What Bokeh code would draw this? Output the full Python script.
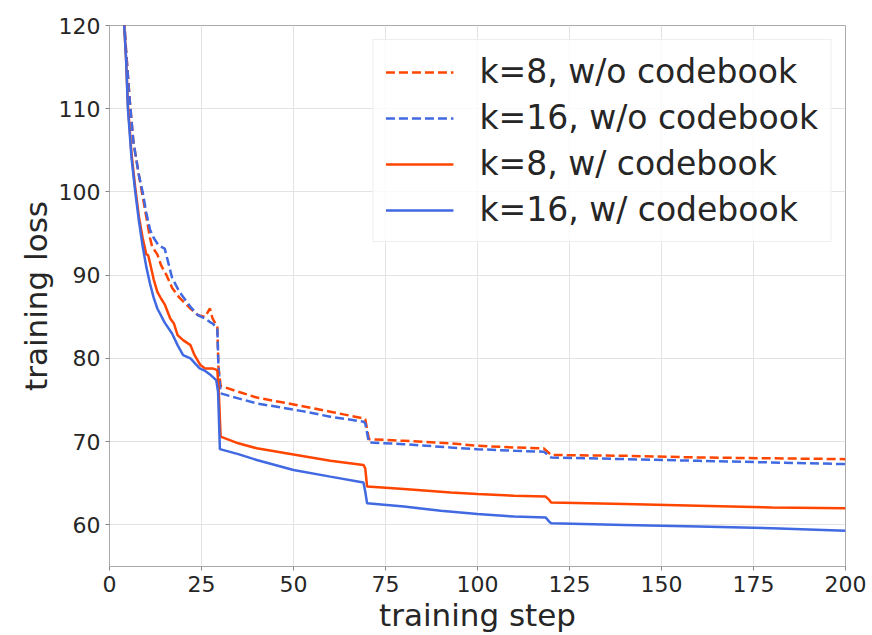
from bokeh.plotting import figure
from bokeh.models import ColumnDataSource, FixedTicker, Range1d
from bokeh.embed import file_html
from bokeh.resources import INLINE

# k=8, w/o codebook (orange dashed)
k8_wo_x = [3.5, 4.5, 5.5, 6.5, 8, 9, 10, 11, 11.6, 13, 14, 15.5, 17, 19, 22, 24, 26, 27.3, 28, 29.3, 29.6, 30.2,
           35, 40, 52, 60, 69, 69.5, 70.5, 80, 92.7, 100, 110, 118, 120, 140, 160, 180, 200]
k8_wo_y = [124, 117, 111, 106, 102, 99.5, 97, 94.5, 93.4, 92.5, 91.2, 90, 88.5, 87.3, 86, 85.2, 85, 86, 84.8, 83.8, 79, 76.7,
           76, 75.3, 74.3, 73.6, 72.8, 72.7, 70.3, 70.1, 69.8, 69.5, 69.3, 69.2, 68.4, 68.3, 68.1, 68, 67.9]

# k=16, w/o codebook (blue dashed)
k16_wo_x = [3.5, 4.5, 5.5, 6.5, 8, 9, 10, 11, 12, 13.3, 15, 17, 19, 22, 24, 26, 27.2, 28, 29.3, 29.6, 30.2,
            35, 40, 52, 60, 69, 69.5, 70.5, 80, 92.7, 100, 110, 118, 120, 140, 160, 180, 200]
k16_wo_y = [124, 117, 111, 106, 102, 100, 97.5, 95.5, 94.5, 93.6, 93.2, 89.7, 88, 86.2, 85.2, 84.8, 84.4, 84.2, 83.6, 79, 75.8,
            75.2, 74.6, 73.7, 73, 72.4, 72.2, 69.9, 69.7, 69.3, 69.1, 68.9, 68.8, 68.1, 67.9, 67.7, 67.5, 67.3]

# k=8, w/ codebook (orange solid)
k8_w_x = [3.5, 4.5, 5, 6, 7, 8, 9, 10, 10.5, 11, 12, 13, 14, 15, 16.5, 17.5, 18.5, 20, 22, 23, 24.7, 26, 28, 29.3, 29.7, 30.2,
          35, 40, 52, 60, 69, 69.5, 70, 80, 92.7, 100, 110, 118.5, 119.5, 120, 140, 160, 180, 200]
k8_w_y = [124, 116, 110.5, 104.5, 100.5, 97, 94.5, 92.5, 92.4, 91.5, 89.5, 88, 87.2, 86.5, 84.8, 84.2, 82.8, 82.2, 81.6, 80.5,
          79.2, 78.8, 78.8, 78.6, 76, 70.6, 69.8, 69.2, 68.3, 67.7, 67.2, 66.8, 64.6, 64.3, 63.9, 63.7, 63.5, 63.4, 63, 62.7,
          62.5, 62.3, 62.1, 62.0]

# k=16, w/ codebook (blue solid)
k16_w_x = [3.5, 4.5, 5, 6, 7, 8, 9, 10, 11, 12, 13, 15, 17, 18.5, 20, 22, 24.5, 26, 27.5, 29, 29.5, 30,
           35, 40, 50, 60, 69, 69.5, 70, 80, 90, 100, 110, 118.5, 119.5, 120, 140, 160, 180, 200]
k16_w_y = [124, 116, 110, 104, 100, 96.5, 93.5, 91, 89, 87.3, 86, 84.3, 83, 81.6, 80.4, 80, 78.8, 78.5, 78, 77.4, 76, 69.1,
           68.5, 67.8, 66.6, 65.8, 65.1, 64, 62.6, 62.2, 61.7, 61.3, 61, 60.9, 60.4, 60.2, 60, 59.8, 59.6, 59.3]

x_ticks = [0, 25, 50, 75, 100, 125, 150, 175, 200]
y_ticks = [60, 70, 80, 90, 100, 110, 120]

ORANGE = "#ff4500"
BLUE = "#4169e1"
FONT = "DejaVu Sans"
TXT = "#262626"

p = figure(width=872, height=635, output_backend="svg", toolbar_location=None,
           x_range=Range1d(0, 200), y_range=Range1d(55, 120),
           min_border_left=109, min_border_right=27, min_border_top=25, min_border_bottom=65)

series = [
    (k8_wo_x, k8_wo_y, ORANGE, "9 4", "k=8, w/o codebook"),
    (k16_wo_x, k16_wo_y, BLUE, "9 4", "k=16, w/o codebook"),
    (k8_w_x, k8_w_y, ORANGE, "solid", "k=8, w/ codebook"),
    (k16_w_x, k16_w_y, BLUE, "solid", "k=16, w/ codebook"),
]
for xs, ys, col, dash, lab in series:
    src = ColumnDataSource(dict(x=xs, y=ys))
    p.line("x", "y", source=src, line_color=col, line_width=2.5, line_dash=dash, legend_label=lab)

p.xaxis.ticker = FixedTicker(ticks=x_ticks)
p.yaxis.ticker = FixedTicker(ticks=y_ticks)
p.xaxis.axis_label = "training step"
p.yaxis.axis_label = "training loss"
for ax in (p.xaxis[0], p.yaxis[0]):
    ax.axis_label_text_font = FONT
    ax.axis_label_text_font_size = "31px"
    ax.axis_label_text_font_style = "normal"
    ax.axis_label_text_color = TXT
    ax.major_label_text_font = FONT
    ax.major_label_text_font_size = "22px"
    ax.major_label_text_color = TXT
    ax.axis_line_color = "#aaaaaa"
    ax.major_tick_line_color = "#888888"
    ax.major_tick_out = 4
    ax.major_tick_in = 0
    ax.minor_tick_line_color = None
    ax.major_label_standoff = 5
    ax.axis_label_standoff = 2

p.outline_line_color = "#aaaaaa"
p.outline_line_width = 1
p.xgrid.grid_line_color = "#e3e3e3"
p.ygrid.grid_line_color = "#e3e3e3"
p.xgrid.grid_line_width = 1
p.ygrid.grid_line_width = 1

lg = p.legend[0]
lg.location = "top_right"
lg.margin = 14
lg.padding = 12
lg.spacing = 7
lg.glyph_width = 68
lg.glyph_height = 36
lg.label_height = 36
lg.label_standoff = 26
lg.label_text_font = FONT
lg.label_text_font_size = "33px"
lg.label_text_color = TXT
lg.border_line_color = "#dddddd"
lg.background_fill_alpha = 0.8

open("out.html", "w").write(file_html(p, INLINE))
